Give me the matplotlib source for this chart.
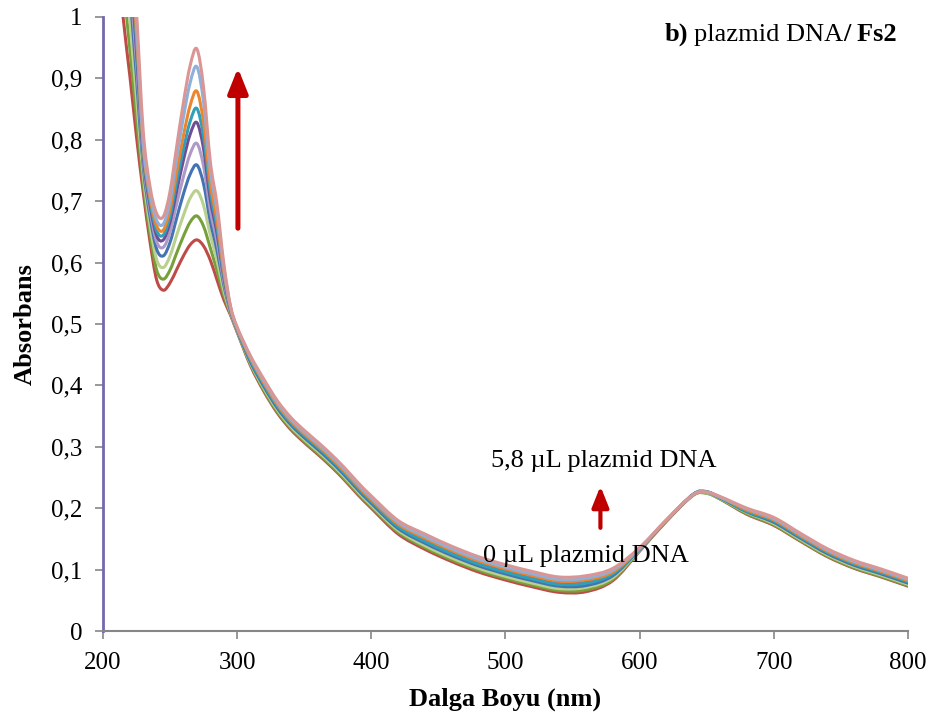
import matplotlib
matplotlib.use('Agg')
import matplotlib.pyplot as plt
from matplotlib.path import Path
from matplotlib.patches import PathPatch

plt.rcParams['font.family'] = ['Liberation Serif', 'DejaVu Serif']

# wavelengths (nm)
wavelength = [210, 215, 220, 225, 230, 235, 240, 245, 250, 255, 260, 265, 270, 275, 280, 285, 290, 295, 300,
              310, 320, 330, 340, 350, 360, 370, 380, 390, 400,
              420, 440, 460, 480, 500, 520, 540, 560, 580, 600, 620, 640, 650, 660,
              680, 700, 720, 740, 760, 780, 800]

# absorbance, 0 uL -> 5.8 uL plasmid DNA
abs_red = [1.12, 1.0, 0.905, 0.805, 0.715, 0.635, 0.572, 0.555, 0.567, 0.589, 0.611, 0.629, 0.637, 0.627, 0.604, 0.572, 0.540, 0.515, 0.487,
           0.432, 0.390, 0.355, 0.328, 0.307, 0.288, 0.268, 0.246, 0.222, 0.200,
           0.158, 0.133, 0.113, 0.096, 0.083, 0.072, 0.063, 0.064, 0.082, 0.130, 0.179, 0.222, 0.225, 0.215,
           0.190, 0.172, 0.146, 0.121, 0.102, 0.088, 0.073]
abs_green = [1.207, 1.063, 0.949, 0.836, 0.729, 0.648, 0.588, 0.573, 0.588, 0.616, 0.643, 0.666, 0.676, 0.659, 0.624, 0.587, 0.548, 0.517, 0.488,
             0.434, 0.392, 0.357, 0.330, 0.309, 0.290, 0.270, 0.248, 0.224, 0.202,
             0.161, 0.136, 0.116, 0.099, 0.086, 0.075, 0.066, 0.067, 0.084, 0.131, 0.179, 0.221, 0.224, 0.215,
             0.191, 0.173, 0.147, 0.122, 0.103, 0.089, 0.074]
abs_lightgreen = [1.30, 1.130, 0.996, 0.869, 0.743, 0.662, 0.605, 0.592, 0.611, 0.645, 0.677, 0.705, 0.717, 0.693, 0.645, 0.604, 0.555, 0.519, 0.489,
                  0.436, 0.395, 0.360, 0.333, 0.312, 0.293, 0.273, 0.251, 0.227, 0.205,
                  0.164, 0.139, 0.119, 0.102, 0.089, 0.078, 0.069, 0.071, 0.087, 0.132, 0.180, 0.222, 0.225, 0.216,
                  0.193, 0.175, 0.149, 0.124, 0.105, 0.091, 0.076]
abs_blue = [1.393, 1.197, 1.044, 0.901, 0.757, 0.676, 0.622, 0.611, 0.633, 0.673, 0.712, 0.744, 0.759, 0.728, 0.667, 0.620, 0.564, 0.521, 0.490,
            0.438, 0.398, 0.363, 0.336, 0.315, 0.296, 0.276, 0.254, 0.230, 0.208,
            0.167, 0.143, 0.123, 0.106, 0.093, 0.082, 0.073, 0.074, 0.090, 0.133, 0.180, 0.223, 0.227, 0.217,
            0.194, 0.177, 0.151, 0.126, 0.107, 0.093, 0.078]
abs_lightpurple = [1.456, 1.244, 1.076, 0.924, 0.767, 0.686, 0.634, 0.625, 0.650, 0.696, 0.740, 0.777, 0.794, 0.757, 0.685, 0.634, 0.570, 0.523, 0.491,
                   0.443, 0.404, 0.369, 0.342, 0.321, 0.302, 0.282, 0.260, 0.236, 0.214,
                   0.173, 0.150, 0.130, 0.113, 0.100, 0.089, 0.080, 0.082, 0.096, 0.134, 0.180, 0.222, 0.226, 0.218,
                   0.197, 0.181, 0.155, 0.130, 0.111, 0.097, 0.082]
abs_purple = [1.514, 1.286, 1.106, 0.944, 0.776, 0.695, 0.644, 0.637, 0.666, 0.717, 0.767, 0.809, 0.828, 0.785, 0.703, 0.648, 0.577, 0.525, 0.492,
              0.442, 0.402, 0.367, 0.340, 0.319, 0.300, 0.280, 0.258, 0.234, 0.212,
              0.171, 0.148, 0.128, 0.111, 0.098, 0.087, 0.078, 0.080, 0.094, 0.134, 0.180, 0.222, 0.226, 0.217,
              0.196, 0.179, 0.153, 0.128, 0.109, 0.095, 0.080]
abs_teal = [1.555, 1.315, 1.126, 0.959, 0.783, 0.701, 0.652, 0.645, 0.676, 0.732, 0.785, 0.830, 0.851, 0.805, 0.715, 0.657, 0.581, 0.526, 0.492,
            0.441, 0.401, 0.366, 0.339, 0.318, 0.299, 0.279, 0.257, 0.233, 0.211,
            0.170, 0.146, 0.126, 0.109, 0.096, 0.085, 0.076, 0.078, 0.093, 0.133, 0.180, 0.222, 0.226, 0.217,
            0.195, 0.179, 0.153, 0.128, 0.109, 0.095, 0.080]
abs_orange = [1.596, 1.344, 1.147, 0.973, 0.789, 0.707, 0.660, 0.653, 0.687, 0.748, 0.807, 0.856, 0.879, 0.828, 0.729, 0.668, 0.587, 0.527, 0.493,
              0.444, 0.404, 0.369, 0.342, 0.321, 0.302, 0.282, 0.260, 0.236, 0.214,
              0.174, 0.151, 0.131, 0.114, 0.101, 0.090, 0.081, 0.083, 0.096, 0.134, 0.180, 0.222, 0.226, 0.218,
              0.197, 0.181, 0.155, 0.130, 0.111, 0.097, 0.082]
abs_lightblue = [1.642, 1.378, 1.171, 0.990, 0.796, 0.714, 0.669, 0.663, 0.701, 0.771, 0.837, 0.893, 0.919, 0.861, 0.750, 0.684, 0.594, 0.529, 0.494,
                 0.446, 0.407, 0.372, 0.345, 0.324, 0.305, 0.285, 0.263, 0.239, 0.217,
                 0.177, 0.154, 0.134, 0.117, 0.104, 0.093, 0.084, 0.086, 0.099, 0.135, 0.181, 0.222, 0.226, 0.218,
                 0.199, 0.183, 0.157, 0.132, 0.113, 0.099, 0.084]
abs_pink = [1.70, 1.42, 1.20, 1.01, 0.815, 0.725, 0.680, 0.675, 0.716, 0.790, 0.861, 0.921, 0.948, 0.885, 0.765, 0.695, 0.600, 0.530, 0.495,
            0.448, 0.410, 0.375, 0.348, 0.327, 0.308, 0.288, 0.266, 0.242, 0.220,
            0.180, 0.158, 0.138, 0.121, 0.108, 0.097, 0.088, 0.090, 0.102, 0.136, 0.181, 0.222, 0.226, 0.219,
            0.200, 0.185, 0.159, 0.134, 0.115, 0.101, 0.086]

series = [abs_red, abs_green, abs_lightgreen, abs_blue, abs_lightpurple,
          abs_purple, abs_teal, abs_orange, abs_lightblue, abs_pink]
colors = ['#BE4B48', '#77A03A', '#B9D08F', '#4473B3', '#AC9BC6',
          '#704E95', '#2FA0B8', '#EC852F', '#8FB0DA', '#D99694']

x_ticks = [200, 300, 400, 500, 600, 700, 800]
y_ticks = [0, 0.1, 0.2, 0.3, 0.4, 0.5, 0.6, 0.7, 0.8, 0.9, 1.0]
y_tick_labels = ['0', '0,1', '0,2', '0,3', '0,4', '0,5', '0,6', '0,7', '0,8', '0,9', '1']


def smooth_line(ax, xs, ys, **kw):
    # Excel-like "smoothed line": cubic Bezier segments through the points
    n = len(xs)
    verts = [(xs[0], ys[0])]
    codes = [Path.MOVETO]
    for i in range(n - 1):
        x0, y0 = (xs[i - 1], ys[i - 1]) if i > 0 else (xs[i], ys[i])
        x1, y1 = xs[i], ys[i]
        x2, y2 = xs[i + 1], ys[i + 1]
        x3, y3 = (xs[i + 2], ys[i + 2]) if i + 2 < n else (x2, y2)
        verts += [(x1 + (x2 - x0) / 6, y1 + (y2 - y0) / 6),
                  (x2 - (x3 - x1) / 6, y2 - (y3 - y1) / 6),
                  (x2, y2)]
        codes += [Path.CURVE4] * 3
    ax.add_patch(PathPatch(Path(verts, codes), fill=False, transform=ax.transData,
                           capstyle='round', joinstyle='round', **kw))


fig = plt.figure(figsize=(9.36, 7.2), dpi=100)
ax = fig.add_axes([0.110, 0.1236, 0.860, 0.8528])

for vals, col in zip(series, colors):
    smooth_line(ax, wavelength, vals, edgecolor=col, lw=2.2)

ax.set_xlim(200, 800)
ax.set_ylim(0, 1)
ax.set_xticks(x_ticks)
ax.set_yticks(y_ticks)
ax.set_yticklabels(y_tick_labels)
ax.tick_params(axis='both', direction='out', length=6, width=1.2, color='#868686',
               labelsize=18, pad=9)

for side in ['top', 'right']:
    ax.spines[side].set_visible(False)
ax.spines['bottom'].set_color('#868686')
ax.spines['bottom'].set_linewidth(1.5)
ax.spines['left'].set_color('#7468AE')
ax.spines['left'].set_linewidth(2.0)

ax.set_xlabel('Dalga Boyu (nm)', fontsize=19, fontweight='bold', labelpad=10)
ax.set_ylabel('Absorbans', fontsize=19, fontweight='bold', labelpad=10)

# arrows
ax.annotate('', xy=(300.6, 0.917), xytext=(300.6, 0.656),
            arrowprops=dict(arrowstyle='-|>,head_width=0.3,head_length=0.75',
                            mutation_scale=20, color='#C00000', lw=3.6,
                            shrinkA=0, shrinkB=0))
ax.annotate('', xy=(570.8, 0.236), xytext=(570.8, 0.168),
            arrowprops=dict(arrowstyle='-|>,head_width=0.28,head_length=0.7',
                            mutation_scale=18, color='#C00000', lw=3.0,
                            shrinkA=0, shrinkB=0))

ax.text(489.6, 0.267, '5,8 \u00b5L plazmid DNA', fontsize=19, va='baseline', ha='left')
ax.text(483.4, 0.113, '0 \u00b5L plazmid DNA', fontsize=19, va='baseline', ha='left')

# panel title with mixed weights
t1 = ax.text(618.5, 0.961, 'b)', fontsize=19, fontweight='bold', va='baseline', ha='left')
t2 = ax.annotate('plazmid DNA', xy=(1, 0), xycoords=t1, xytext=(4.7, 0),
                 textcoords='offset points', fontsize=19, va='bottom', ha='left')
t3 = ax.annotate('/ Fs2', xy=(1, 0), xycoords=t2, xytext=(0, 0),
                 textcoords='offset points', fontsize=19, fontweight='bold',
                 va='bottom', ha='left')

plt.savefig('out.png', dpi=100)
